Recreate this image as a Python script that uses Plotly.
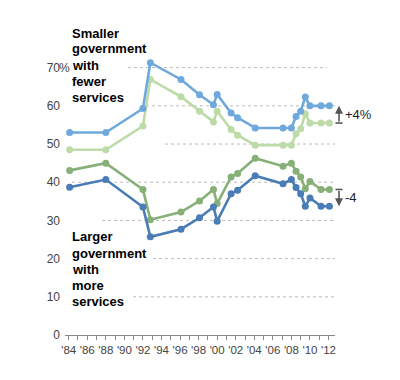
import plotly.graph_objects as go

# ---- data ----
years = [1984.1, 1988.0, 1992.0, 1992.8, 1996.1, 1998.1, 1999.6, 2000.0, 2001.5,
         2002.2, 2004.1, 2007.1, 2008.0, 2008.5, 2009.0, 2009.5, 2010.0, 2011.2, 2012.1]

smaller_a = [53, 53, 59.3, 71.3, 66.9, 62.9, 60.3, 63, 58.1, 56.9, 54.2, 54.2, 54.2,
             57.2, 58.6, 62.3, 60, 60, 60]
smaller_b = [48.5, 48.5, 54.7, 66.9, 62.4, 58.6, 55.8, 58.6, 53.8, 52.3, 49.7, 49.7, 49.7,
             52.7, 54, 57.9, 55.5, 55.5, 55.5]
larger_b = [43.1, 45, 38.1, 30.2, 32.2, 35.1, 38.1, 34.4, 41.4, 42.3, 46.3, 44.2, 45,
            42.9, 41.4, 38.3, 40.2, 38.1, 38.1]
larger_a = [38.7, 40.7, 33.5, 25.7, 27.7, 30.7, 33.5, 29.8, 37, 37.9, 41.7, 39.6, 40.7,
            38.6, 37, 33.7, 35.9, 33.7, 33.7]

tick_years = list(range(1984, 2013))
tick_labels = ["'" + str(y)[2:] if y % 2 == 0 else "" for y in tick_years]
y_ticks = [0, 10, 20, 30, 40, 50, 60, 70]
y_labels = [str(v) for v in y_ticks]

top_label = ["Smaller", "government", "with", "fewer", "services"]
bottom_label = ["Larger", "government", "with", "more", "services"]
change_top = "+4%"
change_bottom = "-4"

# ---- layout constants (screen pixels) ----
W, H = 400, 380
PAGE_OFF = 8                       # default body margin of the html page
PLOT_L, PLOT_R = 65, 335           # desired screen x of plot area
PLOT_T, PLOT_B = 60, 335           # desired screen y of plot area
YMAX = 72
PLOT_W = PLOT_R - PLOT_L
PLOT_H = PLOT_B - PLOT_T
PX_PER_UNIT = PLOT_H / YMAX
ML = PLOT_L - PAGE_OFF
MT = PLOT_T - PAGE_OFF
MR = W - ML - PLOT_W
MB = H - MT - PLOT_H


def px_to_paper(px):
    return (px - PLOT_L) / PLOT_W


def py_to_paper(py):
    return (PLOT_B - py) / PLOT_H


FONT = "Arial, Liberation Sans, sans-serif"
C_LBLUE = "#6fa9dc"
C_LGREEN = "#bddba9"
C_DGREEN = "#86b077"
C_DBLUE = "#4a7db5"

fig = go.Figure()
for vals, col in [(smaller_b, C_LGREEN), (smaller_a, C_LBLUE),
                  (larger_b, C_DGREEN), (larger_a, C_DBLUE)]:
    fig.add_trace(go.Scatter(x=years, y=vals, mode="lines+markers",
                             line=dict(color=col, width=2.6),
                             marker=dict(color=col, size=7),
                             hoverinfo="skip", showlegend=False, cliponaxis=False))

# dotted gridlines (segments, as in the reference)
grid_ranges = {70: (128, 327), 60: (140, 335), 50: (165, 335), 40: (72, 335),
               30: (102, 335), 20: (153, 335), 10: (133, 335)}
shapes = []
for v, (a, b) in grid_ranges.items():
    shapes.append(dict(type="line", xref="paper", yref="y", x0=px_to_paper(a),
                       x1=px_to_paper(b), y0=v, y1=v, layer="below",
                       line=dict(color="#bcbcbc", width=1, dash="dot")))

annotations = []
# "%" after 70
annotations.append(dict(xref="paper", yref="y", x=px_to_paper(57), y=70, text="%",
                        showarrow=False, xanchor="left", yanchor="middle",
                        font=dict(family=FONT, size=12, color="#444")))

for lines, first_y in [(top_label, 33), (bottom_label, 237)]:
    for i, t in enumerate(lines):
        annotations.append(dict(xref="paper", yref="paper", x=px_to_paper(70),
                                y=py_to_paper(first_y + 16 * i), text="<b>" + t + "</b>",
                                showarrow=False, xanchor="left", yanchor="middle",
                                font=dict(family=FONT, size=13, color="#000")))

# change arrows
arrow_x = px_to_paper(339)
for start, end, label in [(smaller_b[-1], smaller_a[-1], change_top),
                          (larger_b[-1], larger_a[-1], change_bottom)]:
    annotations.append(dict(xref="paper", yref="y", x=arrow_x, y=end, text="",
                            showarrow=True, ax=0, ay=(end - start) * PX_PER_UNIT,
                            arrowhead=2, arrowsize=1, arrowwidth=1.6,
                            arrowcolor="#555"))
    shapes.append(dict(type="line", xref="paper", yref="y",
                       x0=px_to_paper(335.5), x1=px_to_paper(342.5), y0=start, y1=start,
                       line=dict(color="#555", width=1.6)))
    annotations.append(dict(xref="paper", yref="y", x=px_to_paper(343),
                            y=(start + end) / 2, text=label, showarrow=False,
                            xanchor="left", yanchor="middle",
                            font=dict(family=FONT, size=13, color="#222")))

fig.update_layout(
    width=W, height=H, margin=dict(l=ML, r=MR, t=MT, b=MB, autoexpand=False),
    paper_bgcolor="white", plot_bgcolor="white",
    shapes=shapes, annotations=annotations,
    xaxis=dict(range=[1983.6, 2012.7], tickvals=tick_years, ticktext=tick_labels,
               showgrid=False, zeroline=False, showline=True, linecolor="#888",
               linewidth=1, ticks="outside", ticklen=4, tickcolor="#888",
               tickfont=dict(family=FONT, size=11.5, color="#444"), fixedrange=True,
               automargin=False),
    yaxis=dict(range=[0, YMAX], tickvals=y_ticks, ticktext=y_labels, showgrid=False,
               zeroline=False, showline=False, ticks="", ticklabelstandoff=4,
               tickfont=dict(family=FONT, size=12, color="#444"), fixedrange=True,
               automargin=False),
)

fig.write_html("out.html")
